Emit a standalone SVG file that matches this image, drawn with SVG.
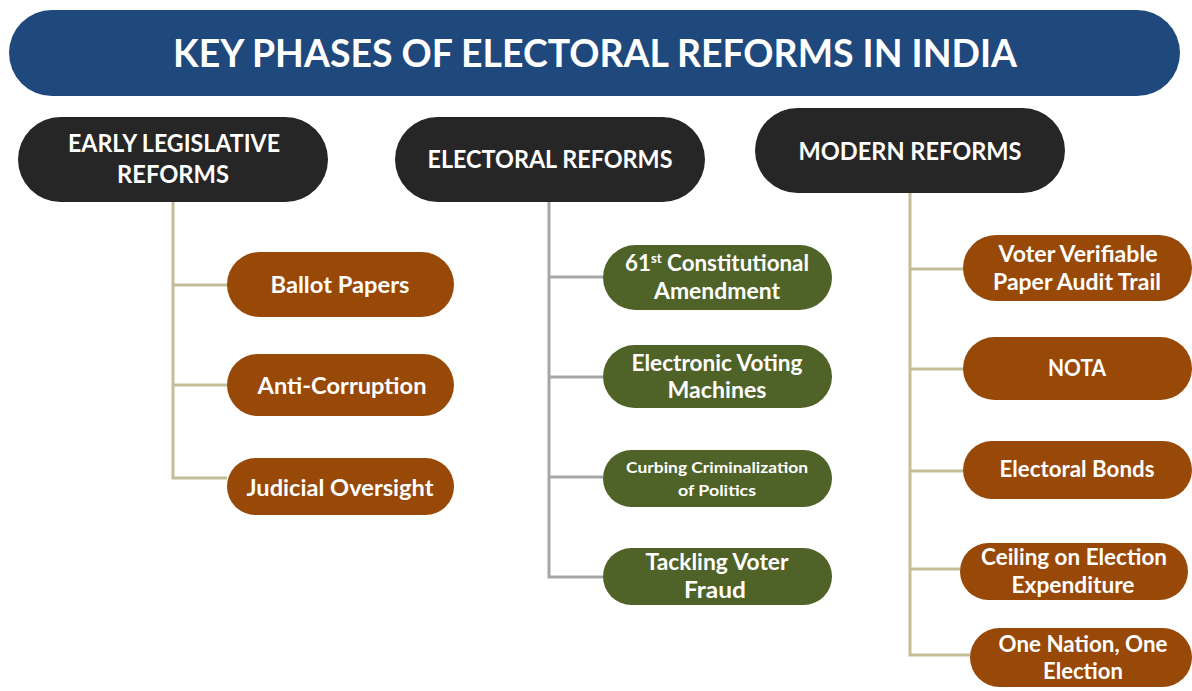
<svg xmlns="http://www.w3.org/2000/svg" width="1192" height="691" viewBox="0 0 1192 691">
<style>
text{font-family:Lato,"Open Sans","Liberation Sans",sans-serif;font-weight:700;fill:#ffffff;text-anchor:middle}
.title{font-size:39px}
.hdr{fill:#262626}
.brown{fill:#984807}
.green{fill:#4F6228}
.h{font-size:24px}
.c{font-size:22px}
.s{font-size:16px}
.tan{stroke:#C4BD97;stroke-width:3;fill:none}
.gray{stroke:#A6A6A6;stroke-width:3;fill:none}
</style>
<rect width="1192" height="691" fill="#ffffff"/>
<g id="title">
<rect x="9" y="10" width="1171" height="86" rx="43" fill="#1F497D"/>
<text class="title" x="595" y="67" textLength="844" lengthAdjust="spacingAndGlyphs">KEY PHASES OF ELECTORAL REFORMS IN INDIA</text>
</g>
<g id="connectors">
<path class="tan" d="M173 202V478H227M173 285H227M173 385H227"/>
<path class="gray" d="M549 202V577H603M549 277H603M549 377H603M549 477H603"/>
<path class="tan" d="M910 193V655H970M910 269H963M910 369H963M910 471H963M910 569H960"/>
</g>
<g id="early">
<rect class="hdr" x="18" y="117" width="310" height="85" rx="42.5"/>
<text class="h" x="174" y="152" textLength="212" lengthAdjust="spacingAndGlyphs">EARLY LEGISLATIVE</text>
<text class="h" x="173" y="183" textLength="112" lengthAdjust="spacingAndGlyphs">REFORMS</text>
</g>
<g id="electoral">
<rect class="hdr" x="395" y="117" width="310" height="85" rx="42.5"/>
<text class="h" x="550" y="168" textLength="245" lengthAdjust="spacingAndGlyphs">ELECTORAL REFORMS</text>
</g>
<g id="modern">
<rect class="hdr" x="755" y="108" width="310" height="85" rx="42.5"/>
<text class="h" x="910" y="160" textLength="223" lengthAdjust="spacingAndGlyphs">MODERN REFORMS</text>
</g>
<g id="ballot">
<rect class="brown" x="227" y="252" width="227" height="65" rx="32.5"/>
<text class="c" x="340" y="293" textLength="139" lengthAdjust="spacingAndGlyphs">Ballot Papers</text>
</g>
<g id="anti">
<rect class="brown" x="227" y="354" width="227" height="62" rx="31"/>
<text class="c" x="342" y="394" textLength="169" lengthAdjust="spacingAndGlyphs">Anti-Corruption</text>
</g>
<g id="judicial">
<rect class="brown" x="227" y="458" width="227" height="57" rx="28.5"/>
<text class="c" x="340" y="496" textLength="187" lengthAdjust="spacingAndGlyphs">Judicial Oversight</text>
</g>
<g id="amend61">
<rect class="green" x="603" y="245" width="229" height="65" rx="32.5"/>
<text class="c" x="717" y="271" textLength="184" lengthAdjust="spacingAndGlyphs">61<tspan font-size="13" dy="-8">st</tspan><tspan dy="8"> Constitutional</tspan></text>
<text class="c" x="717" y="299" textLength="126" lengthAdjust="spacingAndGlyphs">Amendment</text>
</g>
<g id="evm">
<rect class="green" x="603" y="345" width="229" height="63" rx="31.5"/>
<text class="c" x="717" y="371" textLength="171" lengthAdjust="spacingAndGlyphs">Electronic Voting</text>
<text class="c" x="717" y="398" textLength="99" lengthAdjust="spacingAndGlyphs">Machines</text>
</g>
<g id="criminal">
<rect class="green" x="603" y="450" width="229" height="57" rx="28.5"/>
<text class="s" x="717" y="473" textLength="182" lengthAdjust="spacingAndGlyphs">Curbing Criminalization</text>
<text class="s" x="717" y="496" textLength="78" lengthAdjust="spacingAndGlyphs">of Politics</text>
</g>
<g id="fraud">
<rect class="green" x="603" y="548" width="229" height="57" rx="28.5"/>
<text class="c" x="717" y="570" textLength="143" lengthAdjust="spacingAndGlyphs">Tackling Voter</text>
<text class="c" x="715" y="598" textLength="62" lengthAdjust="spacingAndGlyphs">Fraud</text>
</g>
<g id="vvpat">
<rect class="brown" x="963" y="235" width="229" height="66" rx="33"/>
<text class="c" x="1078" y="262" textLength="159" lengthAdjust="spacingAndGlyphs">Voter Verifiable</text>
<text class="c" x="1077" y="290" textLength="168" lengthAdjust="spacingAndGlyphs">Paper Audit Trail</text>
</g>
<g id="nota">
<rect class="brown" x="963" y="337" width="229" height="63" rx="31.5"/>
<text class="c" x="1077" y="376" textLength="58" lengthAdjust="spacingAndGlyphs">NOTA</text>
</g>
<g id="bonds">
<rect class="brown" x="963" y="441" width="229" height="58" rx="29"/>
<text class="c" x="1077" y="477" textLength="155" lengthAdjust="spacingAndGlyphs">Electoral Bonds</text>
</g>
<g id="ceiling">
<rect class="brown" x="960" y="543" width="228" height="57" rx="28.5"/>
<text class="c" x="1074" y="565" textLength="186" lengthAdjust="spacingAndGlyphs">Ceiling on Election</text>
<text class="c" x="1073" y="593" textLength="123" lengthAdjust="spacingAndGlyphs">Expenditure</text>
</g>
<g id="onenation">
<rect class="brown" x="970" y="628" width="222" height="59" rx="29.5"/>
<text class="c" x="1083" y="652" textLength="169" lengthAdjust="spacingAndGlyphs">One Nation, One</text>
<text class="c" x="1083" y="679" textLength="80" lengthAdjust="spacingAndGlyphs">Election</text>
</g>
</svg>
